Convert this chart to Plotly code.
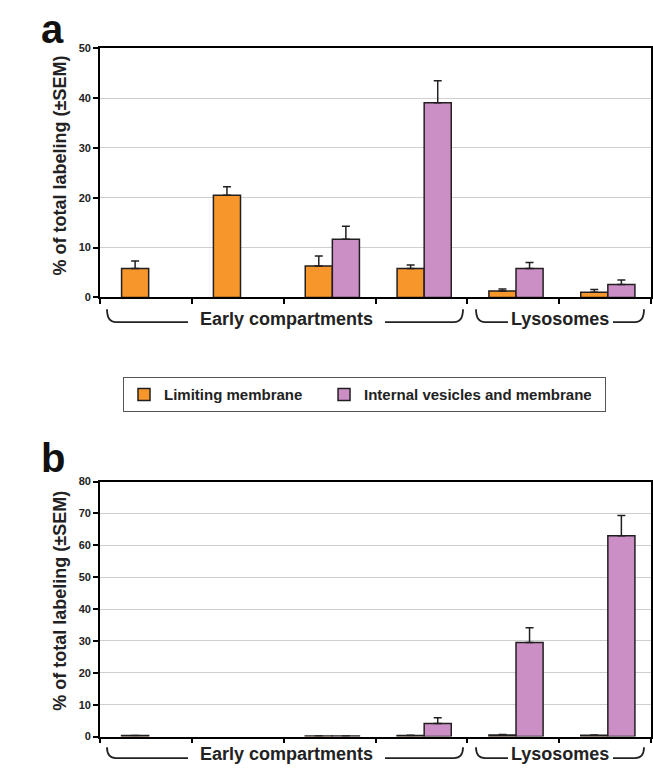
import plotly.graph_objects as go

W, H = 653, 775

# ---------------- data ----------------
categories = ["Early 1", "Early 2", "Early 3", "Early 4", "Lysosome 1", "Lysosome 2"]
series_names = ["Limiting membrane", "Internal vesicles and membrane"]

a_limiting = [5.8, 20.5, 6.3, 5.8, 1.3, 1.05]
a_limiting_err = [1.5, 1.7, 2.0, 0.7, 0.4, 0.55]
a_internal = [None, None, 11.7, 39.1, 5.8, 2.6]
a_internal_err = [0, 0, 2.6, 4.4, 1.2, 0.9]

b_limiting = [0.3, None, 0.15, 0.3, 0.5, 0.4]
b_limiting_err = [0, 0, 0, 0.1, 0.1, 0.1]
b_internal = [None, None, 0.15, 4.1, 29.5, 63.0]
b_internal_err = [0, 0, 0, 1.8, 4.6, 6.3]

group_labels = ["Early compartments", "Lysosomes"]
panel_labels = ["a", "b"]
y_title = "% of total labeling (±SEM)"

# ---------------- style ----------------
ORANGE = "#F7962B"
PURPLE = "#CB8FC6"
OUTLINE = "#231F20"
FONT = "Liberation Sans, Arial, sans-serif"
BAR_W = 0.295
NBSP = "\u00a0"


def px(x):
    return x / W


def py(y):
    return 1 - y / H


fig = go.Figure()

for (lim, lim_e, intl, intl_e, xa, ya, show) in [
    (a_limiting, a_limiting_err, a_internal, a_internal_err, "x", "y", True),
    (b_limiting, b_limiting_err, b_internal, b_internal_err, "x2", "y2", False),
]:
    fig.add_trace(go.Bar(
        x=categories, y=lim, name=series_names[0] + NBSP * 4, xaxis=xa, yaxis=ya,
        width=BAR_W, offset=-BAR_W + 0.03,
        marker=dict(color=ORANGE, line=dict(color=OUTLINE, width=1.5)),
        error_y=dict(type="data", symmetric=False, array=lim_e,
                     arrayminus=[0] * len(lim_e), color=OUTLINE,
                     thickness=1.5, width=4),
        showlegend=show, legendgroup="lim",
    ))
    fig.add_trace(go.Bar(
        x=categories, y=intl, name=series_names[1] + NBSP * 2, xaxis=xa, yaxis=ya,
        width=BAR_W, offset=0.03,
        marker=dict(color=PURPLE, line=dict(color=OUTLINE, width=1.5)),
        error_y=dict(type="data", symmetric=False, array=intl_e,
                     arrayminus=[0] * len(intl_e), color=OUTLINE,
                     thickness=1.5, width=4),
        showlegend=show, legendgroup="int",
    ))

xaxis_common = dict(
    type="category", range=[-0.5, 5.5], tickson="boundaries",
    ticks="outside", ticklen=5, tickwidth=1.5, tickcolor="black",
    showticklabels=False, showline=True, linecolor="black", linewidth=1.8,
    mirror=True, showgrid=False, zeroline=False, fixedrange=True,
)
yaxis_common = dict(
    ticks="outside", ticklen=5, tickwidth=1.5, tickcolor="black",
    showline=True, linecolor="black", linewidth=1.8, mirror=True,
    showgrid=True, gridcolor="#CFCFCF", gridwidth=1, zeroline=False,
    tickfont=dict(family=FONT, size=11, color="#222", weight="bold"),
    fixedrange=True,
)

x_dom = [px(100), px(651)]
fig.update_layout(
    width=W, height=H,
    margin=dict(l=0, r=0, t=0, b=0),
    paper_bgcolor="white", plot_bgcolor="white",
    barmode="group",
    font=dict(family=FONT, color="#222"),
    xaxis=dict(domain=x_dom, anchor="y", **xaxis_common),
    yaxis=dict(domain=[py(296), py(43)], anchor="x", range=[0, 50], dtick=10, **yaxis_common),
    xaxis2=dict(domain=x_dom, anchor="y2", **xaxis_common),
    yaxis2=dict(domain=[py(742), py(483)], anchor="x2", range=[0, 80], dtick=10, **yaxis_common),
    legend=dict(
        orientation="h", x=px(123), y=py(377), xanchor="left", yanchor="top",
        bordercolor="#555", borderwidth=1, bgcolor="white",
        font=dict(family=FONT, size=15, color="#222", weight="bold"),
        traceorder="normal",
    ),
)

# ---------------- brackets under the category axis ----------------
def bracket(x0, x1, xa, xb, ytop, yline, r=9):
    p1 = (f"M {px(x0)},{py(ytop)} Q {px(x0)},{py(yline)} {px(x0 + r)},{py(yline)} "
          f"L {px(xa)},{py(yline)}")
    p2 = (f"M {px(xb)},{py(yline)} L {px(x1 - r)},{py(yline)} "
          f"Q {px(x1)},{py(yline)} {px(x1)},{py(ytop)}")
    return [p1, p2]


shapes = []
annotations = []
for ytop, yline, ytext in [(308, 321, 318), (753, 764, 760)]:
    paths = bracket(107, 463, 188, 385, ytop, yline) + bracket(476, 644, 508, 613, ytop, yline)
    for p in paths:
        shapes.append(dict(type="path", path=p, xref="paper", yref="paper",
                           line=dict(color="#222", width=1.8)))
    annotations.append(dict(text=group_labels[0], x=px(286), y=py(ytext), xref="paper", yref="paper",
                            showarrow=False, xanchor="center", yanchor="middle",
                            font=dict(family=FONT, size=18, color="#222", weight="bold")))
    annotations.append(dict(text=group_labels[1], x=px(560), y=py(ytext), xref="paper", yref="paper",
                            showarrow=False, xanchor="center", yanchor="middle",
                            font=dict(family=FONT, size=18, color="#222", weight="bold")))

# y-axis titles (rotated)
for yc in [162, 604]:
    annotations.append(dict(text=y_title, x=px(60), y=py(yc), xref="paper", yref="paper",
                            showarrow=False, xanchor="center", yanchor="middle", textangle=-90,
                            font=dict(family=FONT, size=18, color="#222", weight="bold")))

# panel letters
for lab, ytop in zip(panel_labels, [0, 436]):
    annotations.append(dict(text=lab, x=px(40), y=py(ytop), xref="paper", yref="paper",
                            showarrow=False, xanchor="left", yanchor="top", borderpad=0,
                            font=dict(family=FONT, size=40, color="#111", weight="bold")))

fig.update_layout(shapes=shapes, annotations=annotations)

fig.write_html(
    "out.html",
    config={"displayModeBar": False},
    post_script="document.body.style.margin='0';document.body.style.overflow='hidden';",
)
